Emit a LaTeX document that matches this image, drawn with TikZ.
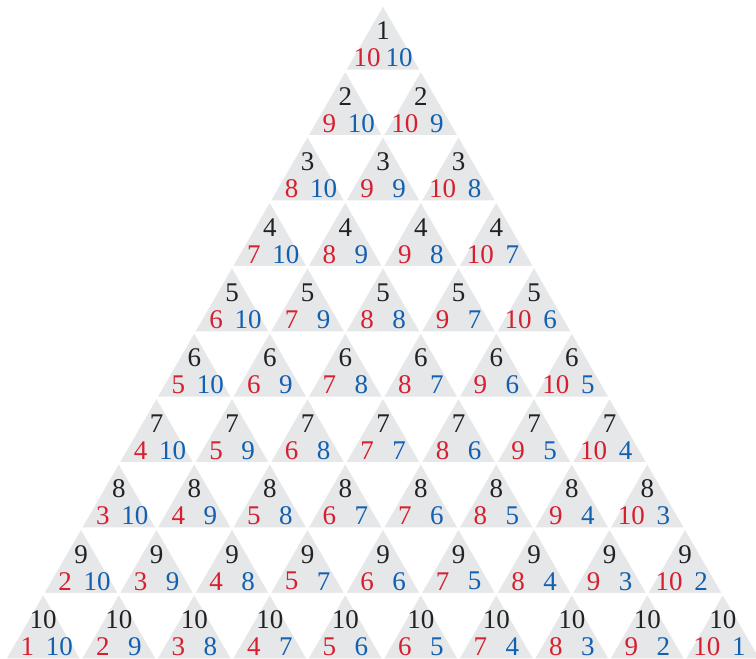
\documentclass[tikz,border=0pt]{standalone}
\usepackage{fontspec}
\setmainfont{Liberation Serif}
\usepackage{tikz}
\definecolor{cellgray}{RGB}{230,231,233}
\definecolor{numred}{RGB}{214,32,48}
\definecolor{numblue}{RGB}{18,96,176}
\definecolor{numblack}{RGB}{34,34,34}

\begin{document}
\begin{tikzpicture}[x=1pt, y=-1pt,
 cell/.style={fill=cellgray, draw=white, line width=1.5pt},
 num/.style={font=\fontsize{27}{31}\selectfont, inner sep=0pt, anchor=center},
 toplbl/.style={num, text=numblack},
 redlbl/.style={num, text=numred},
 bluelbl/.style={num, text=numblue},
]
 \useasboundingbox (0,0) rectangle (756,659);
 % rows of up-triangles: row i, place j
 \foreach \i in {1,...,10}{
  \foreach \j in {1,...,\i}{
   \pgfmathsetmacro{\ax}{383+(2*\j-\i-1)*37.75}
   \pgfmathsetmacro{\ay}{5+(\i-1)*65.4}
   \pgfmathtruncatemacro{\rv}{10-\i+\j}
   \pgfmathtruncatemacro{\bv}{11-\j}
   \filldraw[cell] (\ax,\ay) -- ++(-37.75,65.4) -- ++(75.5,0) -- cycle;
   \node[toplbl] (top-\i-\j) at (\ax,\ay+26) {\i};
   \node[redlbl] (red-\i-\j) at (\ax-16,\ay+53) {\rv};
   \node[bluelbl] (blue-\i-\j) at (\ax+16,\ay+53) {\bv};
  }
 }
\end{tikzpicture}
\end{document}
